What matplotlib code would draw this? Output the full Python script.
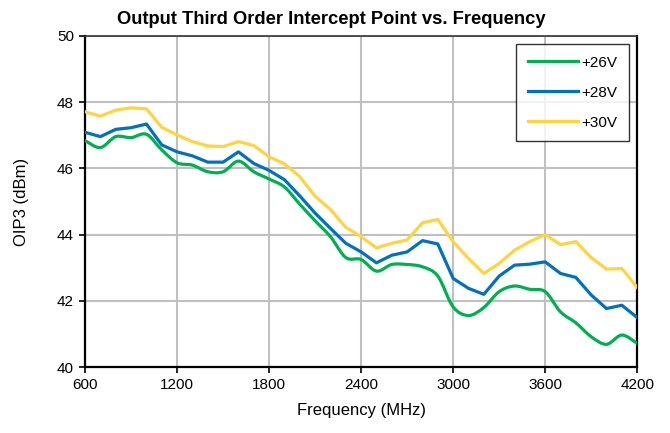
import numpy as np
import matplotlib.pyplot as plt
from matplotlib.path import Path
from matplotlib.patches import PathPatch
from matplotlib.lines import Line2D

plt.rcParams["font.family"] = ["Liberation Sans", "DejaVu Sans"]

freq = list(range(600, 4201, 100))

oip3_26v = [46.84, 46.63, 46.96, 46.93, 47.03, 46.56, 46.17, 46.10, 45.90, 45.90,
            46.22, 45.90, 45.68, 45.44, 44.92, 44.42, 43.94, 43.31, 43.25, 42.90,
            43.10, 43.10, 43.03, 42.75, 41.82, 41.56, 41.80, 42.28, 42.45, 42.35,
            42.28, 41.67, 41.34, 40.92, 40.69, 40.97, 40.72]
oip3_28v = [47.09, 46.96, 47.18, 47.23, 47.34, 46.71, 46.50, 46.38, 46.19, 46.19,
            46.50, 46.15, 45.94, 45.66, 45.17, 44.65, 44.19, 43.74, 43.48, 43.15,
            43.38, 43.48, 43.82, 43.72, 42.68, 42.38, 42.20, 42.75, 43.08, 43.11,
            43.18, 42.83, 42.71, 42.18, 41.77, 41.87, 41.50]
oip3_30v = [47.71, 47.58, 47.76, 47.83, 47.80, 47.24, 47.01, 46.81, 46.68, 46.66,
            46.81, 46.69, 46.35, 46.14, 45.75, 45.16, 44.76, 44.22, 43.94, 43.60,
            43.74, 43.84, 44.36, 44.46, 43.79, 43.28, 42.83, 43.13, 43.53, 43.79,
            44.00, 43.70, 43.79, 43.31, 42.96, 42.98, 42.41]

labels = ["+26V", "+28V", "+30V"]
colors = ["#00b050", "#0070c0", "#ffd43f"]


def smooth_path(xs, ys, t=1 / 6):
    # Excel-style smoothed line: cubic bezier through every data point
    xs, ys = np.asarray(xs, float), np.asarray(ys, float)
    verts = [(xs[0], ys[0])]
    codes = [Path.MOVETO]
    n = len(xs)
    for i in range(n - 1):
        i0, i3 = max(i - 1, 0), min(i + 2, n - 1)
        c1 = (xs[i] + (xs[i + 1] - xs[i0]) * t, ys[i] + (ys[i + 1] - ys[i0]) * t)
        c2 = (xs[i + 1] - (xs[i3] - xs[i]) * t, ys[i + 1] - (ys[i3] - ys[i]) * t)
        verts += [c1, c2, (xs[i + 1], ys[i + 1])]
        codes += [Path.CURVE4] * 3
    return Path(verts, codes)


fig = plt.figure(figsize=(6.7, 4.33), dpi=100)
ax = fig.add_axes([0.127, 0.152, 0.824, 0.765])

ax.add_patch(PathPatch(smooth_path(freq, oip3_26v), fill=False,
                       edgecolor=colors[0], lw=2.3, capstyle="round", zorder=3))
ax.plot(freq, oip3_28v, color=colors[1], lw=2.3, solid_joinstyle="round", zorder=3)
ax.plot(freq, oip3_30v, color=colors[2], lw=2.3, solid_joinstyle="round", zorder=3)

ax.set_xlim(600, 4200)
ax.set_ylim(40, 50)
ax.set_xticks(range(600, 4201, 600))
ax.set_yticks(range(40, 51, 2))
ax.grid(True, color="#c0c0c0", lw=1.5)
ax.set_axisbelow(True)

for side in ["left", "bottom", "right"]:
    ax.spines[side].set_linewidth(1.6)
ax.spines["top"].set_linewidth(1.2)
ax.spines["top"].set_color("#333333")
ax.tick_params(direction="out", length=4, width=1.2, labelsize=11, pad=4)

ax.set_xlabel("Frequency (MHz)", fontsize=12, labelpad=8)
ax.set_ylabel("OIP3 (dBm)", fontsize=12, labelpad=20)
fig.suptitle("Output Third Order Intercept Point vs. Frequency",
             fontsize=13.2, fontweight="bold", x=0.495, y=0.975)

handles = [Line2D([], [], color=c, lw=2.3) for c in colors]
leg = ax.legend(handles, labels, loc="upper right", bbox_to_anchor=(0.985, 0.975),
                fontsize=11, frameon=True, fancybox=False, edgecolor="black",
                handlelength=3.3, handletextpad=0.2, labelspacing=1.05,
                borderpad=0.75, borderaxespad=0)
leg.get_frame().set_linewidth(1.0)

fig.savefig("out.png", dpi=100)
